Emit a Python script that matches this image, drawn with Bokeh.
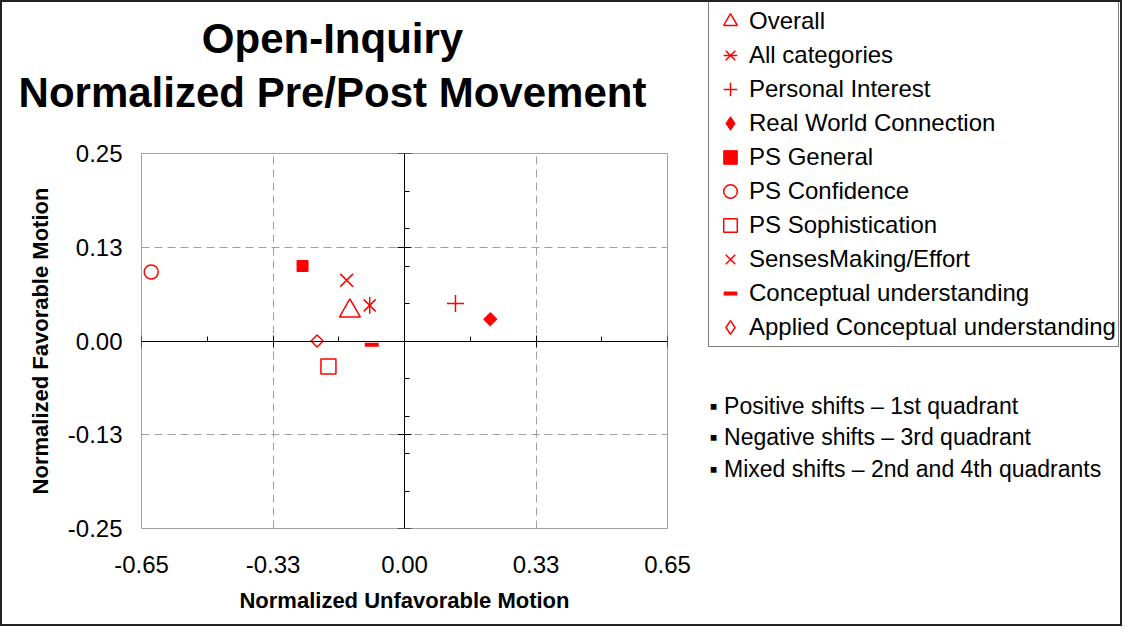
import math
from bokeh.plotting import figure
from bokeh.models import (Range1d, LinearAxis, FixedTicker, Legend, LegendItem,
                          Label, CustomJSTickFormatter, Div)
from bokeh.layouts import row, column
from bokeh.embed import file_html
from bokeh.resources import INLINE

# ---------------- data ----------------
categories = ["Overall", "All categories", "Personal Interest", "Real World Connection",
              "PS General", "PS Confidence", "PS Sophistication", "SensesMaking/Effort",
              "Conceptual understanding", "Applied Conceptual understanding"]
unfavorable = [-0.135, -0.086, 0.126, 0.212, -0.252, -0.626, -0.188, -0.143, -0.081, -0.216]
favorable = [0.040, 0.0475, 0.050, 0.029, 0.100, 0.092, -0.034, 0.081, -0.005, 0.0]

x_ticks = [-0.65, -0.325, 0.0, 0.325, 0.65]
x_tick_labels = ["-0.65", "-0.33", "0.00", "0.33", "0.65"]
y_ticks = [-0.25, -0.125, 0.0, 0.125, 0.25]
y_tick_labels = ["-0.25", "-0.13", "0.00", "0.13", "0.25"]
x_minor = [-0.4875, -0.1625, 0.1625, 0.4875]
y_minor = [-0.2, -0.15, -0.1, -0.05, 0.05, 0.1, 0.15, 0.2]
x_grid = [-0.325, 0.325]
y_grid = [-0.125, 0.125]

title_lines = ["Open-Inquiry", "Normalized Pre/Post Movement"]
notes = ["\u25aa Positive shifts \u2013 1st quadrant",
         "\u25aa Negative shifts \u2013 3rd quadrant",
         "\u25aa Mixed shifts \u2013 2nd and 4th quadrants"]
x_title = "Normalized Unfavorable Motion"
y_title = "Normalized Favorable Motion"

# ---------------- style ----------------
RED = "#ff0000"
FONT = "Liberation Sans"

marker_styles = [
    [dict(marker="triangle", size=21, fill_color=None, line_width=1.5)],
    [dict(marker="x", size=17, fill_color=None, line_width=1.5),
     dict(marker="dash", size=17, angle=math.pi / 2, fill_color=None, line_width=1.5)],
    [dict(marker="cross", size=17, fill_color=None, line_width=1.5)],
    [dict(marker="square", size=9.5, angle=math.pi / 4, fill_color=RED, line_width=1)],
    [dict(marker="square", size=11, fill_color=RED, line_width=1)],
    [dict(marker="circle", size=14, fill_color=None, line_width=1.5)],
    [dict(marker="square", size=15, fill_color=None, line_width=1.5)],
    [dict(marker="x", size=18, fill_color=None, line_width=1.5)],
    [dict(marker="dash", size=14, fill_color=None, line_width=4)],
    [dict(marker="square", size=8.5, angle=math.pi / 4, fill_color=None, line_width=1.5)],
]


def legend_style(st):
    # legends draw markers unrotated: show rotated squares as diamonds
    st = dict(st)
    if st.get("marker") == "square" and "angle" in st:
        st["marker"] = "diamond"
        st.pop("angle")
    return st


# ---------------- main plot ----------------
p = figure(width=698, height=491, title=None,
           x_range=Range1d(-0.65, 0.65), y_range=Range1d(-0.25, 0.25),
           output_backend="svg", toolbar_location=None,
           min_border_left=139, min_border_right=33,
           min_border_top=20, min_border_bottom=96)
p.background_fill_color = "white"
p.border_fill_color = "white"
p.outline_line_color = "#a0a0a0"
p.outline_line_width = 1

xa = p.xaxis[0]
xa.ticker = FixedTicker(ticks=x_ticks, minor_ticks=[])
xa.major_label_overrides = dict(zip(x_ticks, x_tick_labels))
ya = p.yaxis[0]
ya.ticker = FixedTicker(ticks=y_ticks, minor_ticks=[])
ya.major_label_overrides = dict(zip(y_ticks, y_tick_labels))
for ax in (xa, ya):
    ax.axis_line_color = None
    ax.major_tick_line_color = None
    ax.minor_tick_line_color = None
    ax.major_tick_out = 0
    ax.major_tick_in = 0
    ax.major_label_text_font = FONT
    ax.major_label_text_font_size = "24px"
    ax.major_label_text_color = "black"
    ax.axis_label_text_font = FONT
    ax.axis_label_text_font_size = "22px"
    ax.axis_label_text_font_style = "bold"
    ax.axis_label_text_color = "black"
xa.axis_label = x_title
xa.major_label_standoff = 27
xa.axis_label_standoff = 12
ya.axis_label = y_title
ya.major_label_standoff = 19
ya.axis_label_standoff = 12

p.xgrid.ticker = FixedTicker(ticks=x_grid)
p.ygrid.ticker = FixedTicker(ticks=y_grid)
for g in (p.xgrid, p.ygrid):
    g.grid_line_color = "#a0a0a0"
    g.grid_line_dash = "8 5"
    g.grid_line_width = 1

cx = LinearAxis(fixed_location=0, ticker=FixedTicker(ticks=x_ticks, minor_ticks=x_minor),
                formatter=CustomJSTickFormatter(code="return ''"),
                axis_line_color="black", axis_line_width=1,
                major_tick_in=6, major_tick_out=6, minor_tick_in=5, minor_tick_out=0,
                major_tick_line_color="black", minor_tick_line_color="black",
                major_label_standoff=0)
p.add_layout(cx, "below")
cy = LinearAxis(fixed_location=0, ticker=FixedTicker(ticks=y_ticks, minor_ticks=y_minor),
                formatter=CustomJSTickFormatter(code="return ''"),
                axis_line_color="black", axis_line_width=1,
                major_tick_in=7, major_tick_out=7, minor_tick_in=5, minor_tick_out=0,
                major_tick_line_color="black", minor_tick_line_color="black",
                major_label_standoff=0)
p.add_layout(cy, "left")

for xv, yv, sts in zip(unfavorable, favorable, marker_styles):
    for st in sts:
        p.scatter(x=[xv], y=[yv], line_color=RED, **st)

# ---------------- title ----------------
title_html = ('<div style="width:661px;text-align:center;font-family:\'Liberation Sans\',Arial,sans-serif;'
              'font-weight:bold;font-size:42px;line-height:54px;padding-top:10px;color:#000;">'
              + "<br>".join(title_lines) + "</div>")
top = Div(text=title_html, width=698, height=131, margin=0)

# ---------------- legend / notes panel ----------------
side = figure(width=420, height=622, x_range=Range1d(0, 1), y_range=Range1d(0, 1),
              x_axis_type=None, y_axis_type=None, title=None,
              output_backend="svg", toolbar_location=None,
              min_border=0, min_border_left=0, min_border_right=0,
              min_border_top=0, min_border_bottom=0)
side.outline_line_color = None
side.background_fill_color = "white"
side.border_fill_color = "white"

items = []
for cat, xv, yv, sts in zip(categories, unfavorable, favorable, marker_styles):
    rs = [side.scatter(x=[xv], y=[yv], line_color=RED, visible=False, **legend_style(st))
          for st in sts]
    items.append(LegendItem(label=cat, renderers=rs))
legend = Legend(items=items, location=(8, 277), orientation="vertical",
                click_policy="none",
                label_text_font=FONT, label_text_font_size="24px",
                label_text_color="black",
                glyph_width=38, glyph_height=34, label_height=34,
                spacing=0, padding=2, label_standoff=0, margin=0,
                border_line_color="black", border_line_width=1,
                background_fill_color="white", background_fill_alpha=1.0,
                inactive_fill_alpha=0.0)
side.add_layout(legend)

for txt, yy in zip(notes, [218.5, 187.5, 155.5]):
    side.add_layout(Label(x=9, y=yy, x_units="screen", y_units="screen", text=txt,
                          text_align="left", text_baseline="middle",
                          text_font=FONT, text_font_size="23px", text_color="black"))

layout = row(column(top, p), side)
layout.styles = {"border": "2px solid #222222"}

open("out.html", "w").write(file_html(layout, INLINE))
